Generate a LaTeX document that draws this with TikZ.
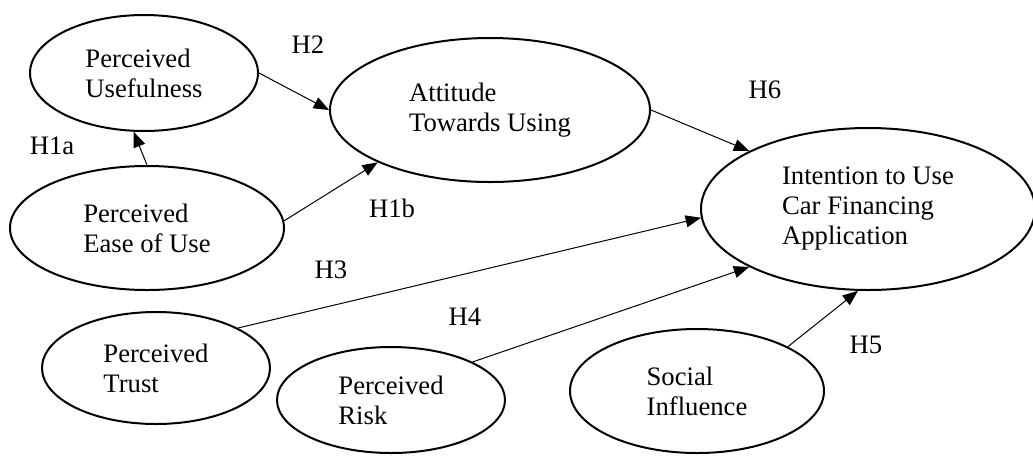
\documentclass[tikz,border=0pt]{standalone}
\usepackage{fontspec}
\setmainfont{Liberation Serif}
\usetikzlibrary{shapes.geometric,arrows.meta}

\tikzset{
    construct/.style={draw, ellipse, line width=1.5pt, inner sep=0pt,
        align=left, font=\fontsize{20}{22.5}\selectfont},
    size/.style 2 args={minimum width=#1*1.5pt, minimum height=#2*1.5pt},
    hyp/.style={-{Triangle[length=11.5pt,width=9pt]}, line width=0.75pt},
    hlabel/.style={font=\fontsize{20}{22.5}\selectfont}
}

\begin{document}
\begin{tikzpicture}[x=0.75pt, y=-0.75pt]

            \useasboundingbox (0, 0) rectangle (1033, 455);

            \node[construct, size={114}{58}] (useful) at (144, 73) {Perceived\\Usefulness};
            \node[construct, size={137}{62}] (ease) at (147, 228) {Perceived\\Ease of Use};
            \node[construct, size={160}{72}] (attitude) at (490, 110) {Attitude\\Towards Using};
            \node[construct, size={167}{81}] (intention) at (868, 209) {Intention to Use\\Car Financing\\Application};
            \node[construct, size={114}{56}] (trust) at (156, 368) {Perceived\\Trust};
            \node[construct, size={114}{53}] (risk) at (391, 400) {Perceived\\Risk};
            \node[construct, size={127}{62}] (social) at (697, 391) {Social\\Influence};

            \draw[hyp] (ease.north) -- (useful.260);
            \draw[hyp] (useful.east) -- (attitude.west);
            \draw[hyp] (ease.3) -- (attitude.205);
            \draw[hyp] (attitude.east) -- (intention.154);
            \draw[hyp] (trust.26) -- (intention.183);
            \draw[hyp] (risk.25) -- (intention.206);
            \draw[hyp] (social.26) -- (intention.263);

            \foreach \name/\x/\y in {H1a/52/146, H1b/392/208, H2/308/45, H3/331/270,
                                     H4/465/317, H5/866/345, H6/765/90}{
                \node[hlabel] (\name) at (\x, \y) {\name};
            }

        \end{tikzpicture}
\end{document}
